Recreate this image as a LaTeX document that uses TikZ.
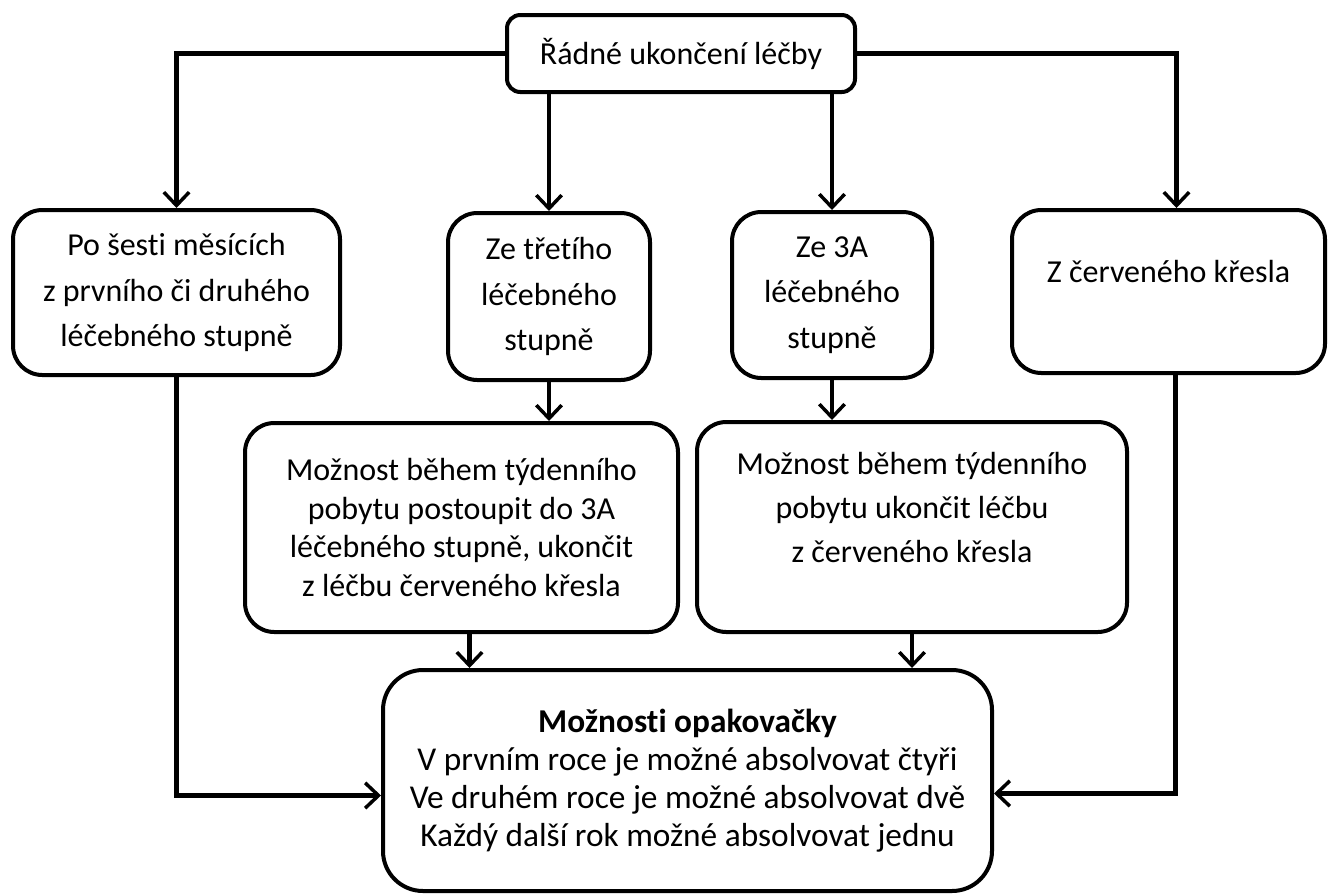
\documentclass[tikz,border=0pt]{standalone}
\usepackage{fontspec}
\setmainfont{Carlito}[Ligatures=NoCommon]
\usetikzlibrary{arrows.meta,calc}
\begin{document}
\begin{tikzpicture}[x=0.75pt,y=0.75pt,yscale=-1,xscale=1,
box/.style={draw,line width=3pt,rounded corners=22pt,align=center,inner sep=0.75pt,font=\fontsize{24}{29}\selectfont},
toprow/.style={font=\fontsize{24}{34}\selectfont},
arr/.style={line width=3.5pt,-{Straight Barb[length=10pt,width=19pt,line width=2.6pt]}}]
\useasboundingbox (0,0) rectangle (1328,893);
\draw (681,53.5) node [box,rounded corners=10pt,minimum width=261pt,minimum height=57.75pt] (top) {Řádné ukončení léčby};
\draw (176.5,292.5) node [box,toprow,minimum width=245.25pt,minimum height=123.75pt] (b1) {Po šesti měsících\\z prvního či druhého\\léčebného stupně};
\draw (549,296.5) node [box,toprow,minimum width=151.5pt,minimum height=125.25pt] (b2) {Ze třetího\\léčebného\\stupně};
\draw (832,295) node [box,toprow,minimum width=150pt,minimum height=124.5pt] (b3) {Ze 3A\\léčebného\\stupně};
\draw (1168.5,291.5) node [box,toprow,minimum width=234.75pt,minimum height=122.25pt] (b4) {Z červeného křesla\\[-4pt]\mbox{}};
\draw (461.5,527.5) node [box,minimum width=324.75pt,minimum height=156.75pt] (m1) {Možnost během týdenního\\pobytu postoupit do 3A\\léčebného stupně, ukončit\\z léčbu červeného křesla};
\draw (912,527) node [box,font=\fontsize{24}{33}\selectfont,minimum width=322.5pt,minimum height=157.5pt] (m2) {Možnost během týdenního\\pobytu ukončit léčbu\\z červeného křesla\\[-3.5pt]\mbox{}};
\draw (687.5,780.5) node [box,rounded corners=30pt,font=\fontsize{25}{28.5}\selectfont,minimum width=456.75pt,minimum height=165.75pt] (bot) {\textbf{Možnosti opakovačky}\\V prvním roce je možné absolvovat čtyři\\Ve druhém roce je možné absolvovat dvě\\Každý další rok možné absolvovat jednu};
\draw[arr] (top.west) -| (b1.north);
\draw[arr] (top.east) -| ([xshift=6pt]b4.north);
\draw[arr] (top.south -| b2.north) -- (b2.north);
\draw[arr] (top.south -| b3.north) -- (b3.north);
\draw[arr] (b2.south) -- (b2.south |- m1.north);
\draw[arr] (b3.south) -- (b3.south |- m2.north);
\draw[arr] ($(m1.south)+(8,0)$) -- ($(m1.south |- bot.north)+(8,0)$);
\draw[arr] (m2.south) -- (m2.south |- bot.north);
\draw[arr] (b1.south) |- ($(bot.west)+(0,15)$);
\draw[arr] ([xshift=5pt]b4.south) |- ($(bot.east)+(0,13)$);
\end{tikzpicture}
\end{document}
